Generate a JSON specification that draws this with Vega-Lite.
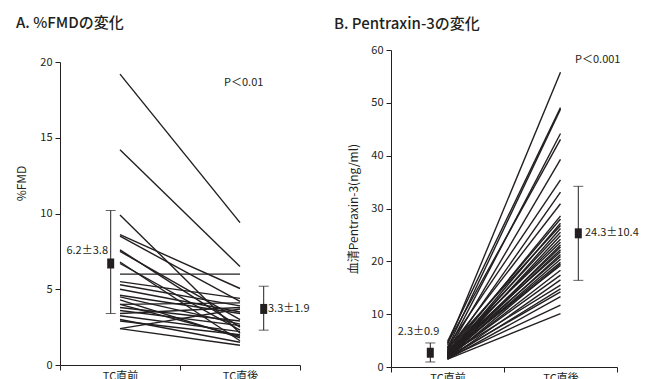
{
  "$schema": "https://vega.github.io/schema/vega-lite/v6.json",
  "padding": {"left": 15, "top": 16, "right": 0, "bottom": 0},
  "config": {
    "font": "Noto Sans CJK JP",
    "view": {"stroke": null},
    "axis": {"domainColor": "#231f20", "tickColor": "#231f20", "labelColor": "#231f20", "titleColor": "#231f20", "labelFontSize": 11, "titleFontSize": 12, "titleFontWeight": "normal", "grid": false, "tickSize": 5, "domainWidth": 1, "tickWidth": 1, "labelPadding": 3, "labelFont": "Noto Sans CJK JP", "titleFont": "Noto Sans CJK JP"},
    "title": {"fontSize": 15, "fontWeight": 500, "anchor": "start", "frame": "bounds", "color": "#231f20", "font": "Noto Sans CJK JP"},
    "text": {"fontSize": 11, "color": "#231f20", "font": "Noto Sans CJK JP"}
  },
  "datasets": {
    "fmd": [
      {"id": 1, "time": "TC直前", "value": 19.2}, {"id": 1, "time": "TC直後", "value": 9.4},
      {"id": 2, "time": "TC直前", "value": 14.2}, {"id": 2, "time": "TC直後", "value": 6.5},
      {"id": 3, "time": "TC直前", "value": 9.9}, {"id": 3, "time": "TC直後", "value": 2.1},
      {"id": 4, "time": "TC直前", "value": 8.6}, {"id": 4, "time": "TC直後", "value": 5.05},
      {"id": 5, "time": "TC直前", "value": 8.5}, {"id": 5, "time": "TC直後", "value": 4.2},
      {"id": 6, "time": "TC直前", "value": 7.6}, {"id": 6, "time": "TC直後", "value": 2.5},
      {"id": 7, "time": "TC直前", "value": 7.5}, {"id": 7, "time": "TC直後", "value": 3.0},
      {"id": 8, "time": "TC直前", "value": 6.8}, {"id": 8, "time": "TC直後", "value": 1.6},
      {"id": 9, "time": "TC直前", "value": 6.7}, {"id": 9, "time": "TC直後", "value": 2.3},
      {"id": 10, "time": "TC直前", "value": 6.0}, {"id": 10, "time": "TC直後", "value": 6.0},
      {"id": 11, "time": "TC直前", "value": 5.5}, {"id": 11, "time": "TC直後", "value": 4.4},
      {"id": 12, "time": "TC直前", "value": 5.3}, {"id": 12, "time": "TC直後", "value": 3.9},
      {"id": 13, "time": "TC直前", "value": 5.0}, {"id": 13, "time": "TC直後", "value": 3.5},
      {"id": 14, "time": "TC直前", "value": 4.6}, {"id": 14, "time": "TC直後", "value": 3.4},
      {"id": 15, "time": "TC直前", "value": 4.5}, {"id": 15, "time": "TC直後", "value": 2.7},
      {"id": 16, "time": "TC直前", "value": 4.3}, {"id": 16, "time": "TC直後", "value": 1.8},
      {"id": 17, "time": "TC直前", "value": 4.0}, {"id": 17, "time": "TC直後", "value": 4.1},
      {"id": 18, "time": "TC直前", "value": 4.0}, {"id": 18, "time": "TC直後", "value": 1.9},
      {"id": 19, "time": "TC直前", "value": 3.8}, {"id": 19, "time": "TC直後", "value": 2.9},
      {"id": 20, "time": "TC直前", "value": 3.6}, {"id": 20, "time": "TC直後", "value": 2.6},
      {"id": 21, "time": "TC直前", "value": 3.4}, {"id": 21, "time": "TC直後", "value": 3.8},
      {"id": 22, "time": "TC直前", "value": 3.25}, {"id": 22, "time": "TC直後", "value": 2.2},
      {"id": 23, "time": "TC直前", "value": 3.0}, {"id": 23, "time": "TC直後", "value": 1.5},
      {"id": 24, "time": "TC直前", "value": 2.4}, {"id": 24, "time": "TC直後", "value": 3.7},
      {"id": 25, "time": "TC直前", "value": 2.4}, {"id": 25, "time": "TC直後", "value": 1.3},
      {"id": 26, "time": "TC直前", "value": 2.9}, {"id": 26, "time": "TC直後", "value": 2.0}
    ],
    "ptx": [
      {"id": 1, "time": "TC直前", "value": 4.2}, {"id": 1, "time": "TC直後", "value": 55.8},
      {"id": 2, "time": "TC直前", "value": 4.8}, {"id": 2, "time": "TC直後", "value": 49.1},
      {"id": 3, "time": "TC直前", "value": 3.6}, {"id": 3, "time": "TC直後", "value": 48.8},
      {"id": 4, "time": "TC直前", "value": 3.2}, {"id": 4, "time": "TC直後", "value": 44.2},
      {"id": 5, "time": "TC直前", "value": 4.5}, {"id": 5, "time": "TC直後", "value": 43.1},
      {"id": 6, "time": "TC直前", "value": 2.9}, {"id": 6, "time": "TC直後", "value": 39.3},
      {"id": 7, "time": "TC直前", "value": 3.8}, {"id": 7, "time": "TC直後", "value": 35.4},
      {"id": 8, "time": "TC直前", "value": 2.6}, {"id": 8, "time": "TC直後", "value": 33.1},
      {"id": 9, "time": "TC直前", "value": 3.3}, {"id": 9, "time": "TC直後", "value": 30.9},
      {"id": 10, "time": "TC直前", "value": 2.4}, {"id": 10, "time": "TC直後", "value": 28.6},
      {"id": 11, "time": "TC直前", "value": 2.9}, {"id": 11, "time": "TC直後", "value": 28.0},
      {"id": 12, "time": "TC直前", "value": 2.2}, {"id": 12, "time": "TC直後", "value": 27.2},
      {"id": 13, "time": "TC直前", "value": 3.5}, {"id": 13, "time": "TC直後", "value": 26.8},
      {"id": 14, "time": "TC直前", "value": 2.0}, {"id": 14, "time": "TC直後", "value": 26.2},
      {"id": 15, "time": "TC直前", "value": 2.7}, {"id": 15, "time": "TC直後", "value": 25.5},
      {"id": 16, "time": "TC直前", "value": 1.9}, {"id": 16, "time": "TC直後", "value": 24.9},
      {"id": 17, "time": "TC直前", "value": 2.5}, {"id": 17, "time": "TC直後", "value": 24.2},
      {"id": 18, "time": "TC直前", "value": 3.0}, {"id": 18, "time": "TC直後", "value": 23.6},
      {"id": 19, "time": "TC直前", "value": 1.8}, {"id": 19, "time": "TC直後", "value": 23.1},
      {"id": 20, "time": "TC直前", "value": 2.3}, {"id": 20, "time": "TC直後", "value": 22.7},
      {"id": 21, "time": "TC直前", "value": 2.1}, {"id": 21, "time": "TC直後", "value": 22.2},
      {"id": 22, "time": "TC直前", "value": 2.8}, {"id": 22, "time": "TC直後", "value": 21.8},
      {"id": 23, "time": "TC直前", "value": 1.7}, {"id": 23, "time": "TC直後", "value": 21.3},
      {"id": 24, "time": "TC直前", "value": 2.4}, {"id": 24, "time": "TC直後", "value": 20.9},
      {"id": 25, "time": "TC直前", "value": 1.9}, {"id": 25, "time": "TC直後", "value": 20.4},
      {"id": 26, "time": "TC直前", "value": 2.2}, {"id": 26, "time": "TC直後", "value": 19.8},
      {"id": 27, "time": "TC直前", "value": 1.6}, {"id": 27, "time": "TC直後", "value": 19.5},
      {"id": 28, "time": "TC直前", "value": 2.6}, {"id": 28, "time": "TC直後", "value": 19.2},
      {"id": 29, "time": "TC直前", "value": 1.8}, {"id": 29, "time": "TC直後", "value": 18.3},
      {"id": 30, "time": "TC直前", "value": 2.0}, {"id": 30, "time": "TC直後", "value": 17.4},
      {"id": 31, "time": "TC直前", "value": 1.5}, {"id": 31, "time": "TC直後", "value": 16.5},
      {"id": 32, "time": "TC直前", "value": 2.3}, {"id": 32, "time": "TC直後", "value": 15.5},
      {"id": 33, "time": "TC直前", "value": 1.6}, {"id": 33, "time": "TC直後", "value": 14.8},
      {"id": 34, "time": "TC直前", "value": 1.9}, {"id": 34, "time": "TC直後", "value": 14.2},
      {"id": 35, "time": "TC直前", "value": 1.5}, {"id": 35, "time": "TC直後", "value": 13.3},
      {"id": 36, "time": "TC直前", "value": 1.7}, {"id": 36, "time": "TC直後", "value": 11.7},
      {"id": 37, "time": "TC直前", "value": 1.5}, {"id": 37, "time": "TC直後", "value": 10.1}
    ],
    "fmdMean": [
      {"time": "TC直前", "mean": 6.7, "lo": 3.4, "hi": 10.2, "label": "6.2±3.8"},
      {"time": "TC直後", "mean": 3.7, "lo": 2.3, "hi": 5.2, "label": "3.3±1.9"}
    ],
    "ptxMean": [
      {"time": "TC直前", "mean": 2.7, "lo": 0.95, "hi": 4.55, "label": "2.3±0.9"},
      {"time": "TC直後", "mean": 25.3, "lo": 16.4, "hi": 34.2, "label": "24.3±10.4"}
    ],
    "fmdNote": [{"time": "TC直後", "value": 18.6, "text": "P＜0.01"}],
    "ptxNote": [{"time": "TC直後", "value": 58.1, "text": "P＜0.001"}]
  },
  "spacing": 24,
  "hconcat": [
    {
      "width": 240,
      "height": 315,
      "title": {"text": "A. %FMDの変化", "offset": 19, "dx": 1},
      "encoding": {
        "x": {"field": "time", "type": "nominal", "sort": ["TC直前", "TC直後"], "scale": {"type": "band", "domain": ["TC直前", "TC直後"], "paddingInner": 0, "paddingOuter": 0}, "axis": {"title": null, "labelAngle": 0, "tickBand": "extent", "labelPadding": 0}}
      },
      "layer": [
        {
          "data": {"name": "fmd"},
          "mark": {"type": "line", "color": "#231f20", "strokeWidth": 1.4},
          "encoding": {
            "y": {"field": "value", "type": "quantitative", "title": "%FMD", "scale": {"domain": [0, 20], "nice": false, "range": [315, 12]}, "axis": {"values": [0, 5, 10, 15, 20], "titleX": -32, "titleY": 133}},
            "detail": {"field": "id"}
          }
        },
        {
          "data": {"name": "fmdMean"},
          "transform": [{"filter": "datum.time === 'TC直前'"}],
          "layer": [
            {"mark": {"type": "rule", "color": "#231f20", "strokeWidth": 1, "xOffset": -9.3}, "encoding": {"y": {"field": "lo", "type": "quantitative", "title": "%FMD"}, "y2": {"field": "hi"}}},
            {"mark": {"type": "tick", "color": "#231f20", "size": 10, "thickness": 1, "xOffset": -9.3}, "encoding": {"y": {"field": "lo", "type": "quantitative", "title": "%FMD"}}},
            {"mark": {"type": "tick", "color": "#231f20", "size": 10, "thickness": 1, "xOffset": -9.3}, "encoding": {"y": {"field": "hi", "type": "quantitative", "title": "%FMD"}}},
            {"mark": {"type": "point", "shape": "M-0.7,-1L0.7,-1L0.7,1L-0.7,1Z", "size": 100, "filled": true, "opacity": 1, "color": "#231f20", "xOffset": -9.3}, "encoding": {"y": {"field": "mean", "type": "quantitative", "title": "%FMD"}}},
            {"mark": {"type": "text", "align": "right", "baseline": "middle", "dx": -12, "dy": -12}, "encoding": {"y": {"field": "mean", "type": "quantitative", "title": "%FMD"}, "text": {"field": "label"}}}
          ]
        },
        {
          "data": {"name": "fmdMean"},
          "transform": [{"filter": "datum.time === 'TC直後'"}],
          "layer": [
            {"mark": {"type": "rule", "color": "#231f20", "strokeWidth": 1, "xOffset": 23.7}, "encoding": {"y": {"field": "lo", "type": "quantitative", "title": "%FMD"}, "y2": {"field": "hi"}}},
            {"mark": {"type": "tick", "color": "#231f20", "size": 10, "thickness": 1, "xOffset": 23.7}, "encoding": {"y": {"field": "lo", "type": "quantitative", "title": "%FMD"}}},
            {"mark": {"type": "tick", "color": "#231f20", "size": 10, "thickness": 1, "xOffset": 23.7}, "encoding": {"y": {"field": "hi", "type": "quantitative", "title": "%FMD"}}},
            {"mark": {"type": "point", "shape": "M-0.7,-1L0.7,-1L0.7,1L-0.7,1Z", "size": 100, "filled": true, "opacity": 1, "color": "#231f20", "xOffset": 23.7}, "encoding": {"y": {"field": "mean", "type": "quantitative", "title": "%FMD"}}},
            {"mark": {"type": "text", "align": "left", "baseline": "middle", "dx": 28}, "encoding": {"y": {"field": "mean", "type": "quantitative", "title": "%FMD"}, "text": {"field": "label"}}}
          ]
        },
        {
          "data": {"name": "fmdNote"},
          "mark": {"type": "text", "align": "left", "baseline": "middle", "dx": -16},
          "encoding": {"y": {"field": "value", "type": "quantitative", "title": "%FMD"}, "text": {"field": "text"}}
        }
      ]
    },
    {
      "width": 226,
      "height": 317,
      "title": {"text": "B. Pentraxin-3の変化", "offset": 12, "dx": -13},
      "encoding": {
        "x": {"field": "time", "type": "nominal", "sort": ["TC直前", "TC直後"], "scale": {"type": "band", "domain": ["TC直前", "TC直後"], "paddingInner": 0, "paddingOuter": 0}, "axis": {"title": null, "labelAngle": 0, "tickBand": "extent", "labelPadding": 0}}
      },
      "layer": [
        {
          "data": {"name": "ptx"},
          "mark": {"type": "line", "color": "#231f20", "strokeWidth": 1.4},
          "encoding": {
            "y": {"field": "value", "type": "quantitative", "title": "血清Pentraxin-3(ng/ml)", "scale": {"domain": [0, 60], "nice": false}, "axis": {"values": [0, 10, 20, 30, 40, 50, 60], "titleX": -31}},
            "detail": {"field": "id"}
          }
        },
        {
          "data": {"name": "ptxMean"},
          "transform": [{"filter": "datum.time === 'TC直前'"}],
          "layer": [
            {"mark": {"type": "rule", "color": "#231f20", "strokeWidth": 1, "xOffset": -17.2}, "encoding": {"y": {"field": "lo", "type": "quantitative", "title": "血清Pentraxin-3(ng/ml)"}, "y2": {"field": "hi"}}},
            {"mark": {"type": "tick", "color": "#231f20", "size": 10, "thickness": 1, "xOffset": -17.2}, "encoding": {"y": {"field": "lo", "type": "quantitative", "title": "血清Pentraxin-3(ng/ml)"}}},
            {"mark": {"type": "tick", "color": "#231f20", "size": 10, "thickness": 1, "xOffset": -17.2}, "encoding": {"y": {"field": "hi", "type": "quantitative", "title": "血清Pentraxin-3(ng/ml)"}}},
            {"mark": {"type": "point", "shape": "M-0.7,-1L0.7,-1L0.7,1L-0.7,1Z", "size": 100, "filled": true, "opacity": 1, "color": "#231f20", "xOffset": -17.2}, "encoding": {"y": {"field": "mean", "type": "quantitative", "title": "血清Pentraxin-3(ng/ml)"}}},
            {"mark": {"type": "text", "align": "center", "baseline": "middle", "dx": -29, "dy": -20.6}, "encoding": {"y": {"field": "mean", "type": "quantitative", "title": "血清Pentraxin-3(ng/ml)"}, "text": {"field": "label"}}}
          ]
        },
        {
          "data": {"name": "ptxMean"},
          "transform": [{"filter": "datum.time === 'TC直後'"}],
          "layer": [
            {"mark": {"type": "rule", "color": "#231f20", "strokeWidth": 1, "xOffset": 17.8}, "encoding": {"y": {"field": "lo", "type": "quantitative", "title": "血清Pentraxin-3(ng/ml)"}, "y2": {"field": "hi"}}},
            {"mark": {"type": "tick", "color": "#231f20", "size": 10, "thickness": 1, "xOffset": 17.8}, "encoding": {"y": {"field": "lo", "type": "quantitative", "title": "血清Pentraxin-3(ng/ml)"}}},
            {"mark": {"type": "tick", "color": "#231f20", "size": 10, "thickness": 1, "xOffset": 17.8}, "encoding": {"y": {"field": "hi", "type": "quantitative", "title": "血清Pentraxin-3(ng/ml)"}}},
            {"mark": {"type": "point", "shape": "M-0.7,-1L0.7,-1L0.7,1L-0.7,1Z", "size": 100, "filled": true, "opacity": 1, "color": "#231f20", "xOffset": 17.8}, "encoding": {"y": {"field": "mean", "type": "quantitative", "title": "血清Pentraxin-3(ng/ml)"}}},
            {"mark": {"type": "text", "align": "left", "baseline": "middle", "dx": 24.5}, "encoding": {"y": {"field": "mean", "type": "quantitative", "title": "血清Pentraxin-3(ng/ml)"}, "text": {"field": "label"}}}
          ]
        },
        {
          "data": {"name": "ptxNote"},
          "mark": {"type": "text", "align": "left", "baseline": "middle", "dx": 14.5},
          "encoding": {"y": {"field": "value", "type": "quantitative", "title": "血清Pentraxin-3(ng/ml)"}, "text": {"field": "text"}}
        }
      ]
    }
  ]
}
